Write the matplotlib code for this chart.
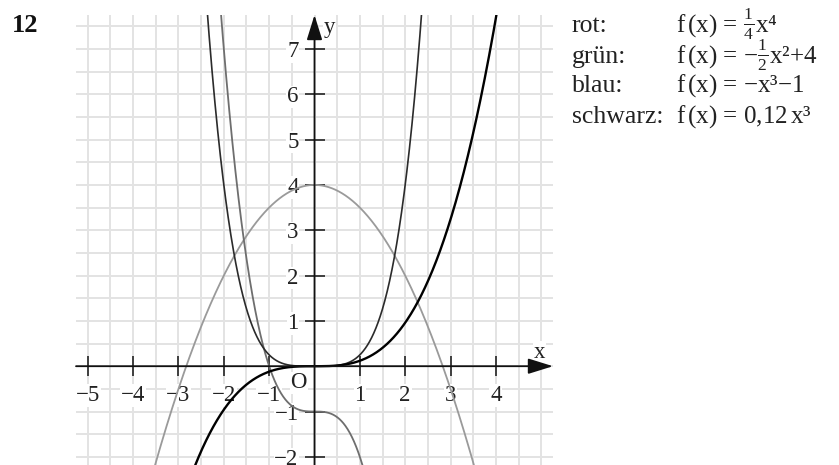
import numpy as np
import matplotlib
matplotlib.use("Agg")
import matplotlib.pyplot as plt
from matplotlib.ticker import FixedLocator

plt.rcParams["font.family"] = ["Liberation Serif", "DejaVu Serif"]
plt.rcParams["mathtext.fontset"] = "custom"
plt.rcParams["mathtext.rm"] = "Liberation Serif"
plt.rcParams["mathtext.it"] = "Liberation Serif"
plt.rcParams["mathtext.default"] = "regular"

# polynomial coefficients (highest power first)
rot_coef = [0.25, 0, 0, 0, 0]
gruen_coef = [-0.5, 0, 4]
blau_coef = [-1, 0, 0, -1]
schwarz_coef = [0.12, 0, 0, 0]

curve_names = ["rot:", "grün:", "blau:", "schwarz:"]
curve_formulas = [
    r"f$\,$(x) = $\frac{1}{4}$x⁴",
    r"f$\,$(x) = −$\frac{1}{2}$x²+4",
    r"f$\,$(x) = −x³−1",
    r"f$\,$(x) = 0,12$\,$x³",
]

x_ticks = [-5, -4, -3, -2, -1, 1, 2, 3, 4]
y_ticks = [-2, -1, 1, 2, 3, 4, 5, 6, 7]

xmin, xmax = -5.26, 5.26
ymin, ymax = -2.18, 7.75

W, H = 839, 465
fig = plt.figure(figsize=(W / 100, H / 100), dpi=100)
ax = fig.add_axes([76 / W, 0, 477 / W, 450 / H])
ax.set_xlim(xmin, xmax)
ax.set_ylim(ymin, ymax)

# half-unit grid
grid_c = "#e3e3e3"
gx = np.arange(-5, 5.01, 0.5)
gy = np.arange(-2, 7.51, 0.5)
ax.vlines(gx, ymin, ymax, colors=grid_c, lw=1.4, zorder=0)
ax.hlines(gy, xmin, xmax, colors=grid_c, lw=1.4, zorder=0)

# axes through the origin, drawn as arrows
for s in ("top", "right", "left", "bottom"):
    ax.spines[s].set_visible(False)

ax.xaxis.set_major_locator(FixedLocator(x_ticks))
ax.yaxis.set_major_locator(FixedLocator(y_ticks))
ax.tick_params(direction="inout", length=14, width=1.1, color="#111111",
               labelsize=16.5, labelcolor="#222222")
ax.spines["left"].set_position(("data", 0))
ax.spines["bottom"].set_position(("data", 0))
ax.tick_params(axis="x", pad=6.5)
ax.tick_params(axis="y", pad=4.5)
for lab in ax.get_xticklabels() + ax.get_yticklabels():
    lab.set_bbox(dict(facecolor="white", edgecolor="none", pad=0.5))

arrow = dict(arrowstyle="-|>,head_length=0.9,head_width=0.28",
             color="#111111", lw=1.3, mutation_scale=17, shrinkA=0, shrinkB=0)
ax.annotate("", xy=(xmax, 0), xytext=(xmin, 0), arrowprops=arrow,
            zorder=3, annotation_clip=False)
ax.annotate("", xy=(0, ymax), xytext=(0, ymin), arrowprops=arrow,
            zorder=3, annotation_clip=False)

box = dict(facecolor="white", edgecolor="none", pad=0.5)
ax.text(4.97, 0.31, "x", fontsize=16.5, ha="center", va="center",
        color="#222222", bbox=box, zorder=1.6)
ax.text(0.34, 7.47, "y", fontsize=16.5, ha="center", va="center",
        color="#222222", bbox=box, zorder=1.6)
ax.text(-0.35, -0.37, "O", fontsize=16.5, ha="center", va="center",
        color="#222222", bbox=box, zorder=1.6)

# curves
xs = np.linspace(xmin, xmax, 2000)
ax.plot(xs, np.polyval(gruen_coef, xs), color="#9a9a9a", lw=1.3, zorder=2)
ax.plot(xs, np.polyval(blau_coef, xs), color="#6e6e6e", lw=1.3, zorder=2)
ax.plot(xs, np.polyval(rot_coef, xs), color="#2b2b2b", lw=1.2, zorder=2)
ax.plot(xs, np.polyval(schwarz_coef, xs), color="#000000", lw=1.7, zorder=2)

# exercise number and legend text
fig.text(12 / W, 1 - 14 / H, "12", fontsize=19, fontweight="bold",
         ha="left", va="top", color="#111111")
baselines = [32, 63, 92, 123]
for name, formula, b in zip(curve_names, curve_formulas, baselines):
    fig.text(572 / W, 1 - b / H, name, fontsize=18.5, ha="left",
             va="baseline", color="#222222")
    fig.text(676 / W, 1 - b / H, formula, fontsize=18, ha="left",
             va="baseline", color="#222222")

fig.savefig("out.png", dpi=100)
